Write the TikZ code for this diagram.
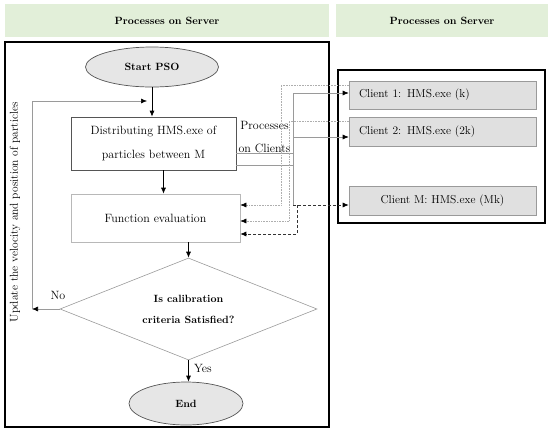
\documentclass[tikz,border=0pt]{standalone}
\usetikzlibrary{shapes.geometric,arrows.meta}
\definecolor{hdrgreen}{HTML}{E2EFD9}
\definecolor{termfill}{HTML}{E6E6E6}
\definecolor{clfill}{HTML}{E0E0E0}
\definecolor{lgray}{HTML}{9A9A9A}
\definecolor{dgray}{HTML}{555555}
\begin{document}
\begin{tikzpicture}[x=1pt,y=-1pt,
  hdr/.style={fill=hdrgreen,draw=none,inner sep=0pt,font=\bfseries\fontsize{10.5}{12}\selectfont},
  frame/.style={draw=black,line width=1.1pt,inner sep=0pt,fill=none},
  term/.style={ellipse,draw=dgray,fill=termfill,inner sep=0pt,line width=0.7pt,font=\bfseries\fontsize{10.5}{12}\selectfont},
  proc/.style={rectangle,inner sep=0pt,align=center,font=\fontsize{12}{24}\selectfont},
  client/.style={rectangle,draw=lgray,fill=clfill,inner sep=0pt,line width=0.6pt,minimum width=187pt,font=\fontsize{11.5}{13}\selectfont},
  tip/.style={-{Latex[length=6pt,width=5pt,color=black]}},
  flow/.style={black,line width=0.7pt,tip},
  sol/.style={lgray,line width=0.6pt},
  dot/.style={lgray!80,line width=0.6pt,densely dotted},
  dsh/.style={black!80,line width=0.7pt,densely dashed},
  lbl/.style={inner sep=0pt,font=\fontsize{12}{14}\selectfont}]
\useasboundingbox (0,0) rectangle (550,432);
% headers
\node[hdr,minimum width=324pt,minimum height=33pt] (h1) at (167,20.5) {Processes on Server};
\node[hdr,minimum width=212pt,minimum height=33pt] (h2) at (442,20.5) {Processes on Server};
% frames
\node[frame,minimum width=324pt,minimum height=385pt] (srv) at (167,234.5) {};
\node[frame,minimum width=207pt,minimum height=153pt] (cls) at (441.5,146.5) {};
% flow nodes
\node[term,minimum width=133pt,minimum height=40pt] (start) at (152,67) {Start PSO};
\node[proc,draw=dgray,line width=0.7pt,minimum width=165pt,minimum height=53pt] (dist) at (153.5,143.5) {Distributing HMS.exe of\\particles between M};
\node[proc,draw=lgray!70,line width=0.6pt,minimum width=169pt,minimum height=48pt] (fe) at (155.5,218) {Function evaluation};
\node[diamond,shape aspect=2.5,draw=lgray,line width=0.6pt,inner sep=0pt,minimum width=257pt,minimum height=102pt,align=center,font=\bfseries\fontsize{10.5}{21}\selectfont] (dia) at (188.5,309) {Is calibration\\criteria Satisfied?};
\node[term,minimum width=114pt,minimum height=43pt] (end) at (186,403.5) {End};
% clients
\node[client,minimum height=28pt,text width=167pt,align=left] (c1) at (442.5,95) {Client 1: HMS.exe (k)};
\node[client,minimum height=29pt,text width=167pt,align=left] (c2) at (442.5,131.5) {Client 2: HMS.exe (2k)};
\node[client,minimum height=29pt,text width=167pt,align=center] (cM) at (442.5,200.5) {Client M: HMS.exe (Mk)};
% labels
\node[lbl,align=center,font=\fontsize{12}{23}\selectfont] (pc) at (264.5,137) {Processes\\on Clients};
\node[lbl] (no) at (58,295) {No};
\node[lbl] (yes) at (203,368) {Yes};
\node[lbl,rotate=90,font=\fontsize{11.5}{13}\selectfont] (upd) at (15,212) {Update the velocity and position of particles};
% main flow
\draw[flow] (start.south) -- (start.south |- dist.north);
\draw[flow] ([xshift=10pt]dist.south) -- ([xshift=10pt]dist.south |- fe.north);
\draw[flow] (fe.south -| dia.north) -- (dia.north);
\draw[flow] (dia.south) -- (dia.south |- end.north);
% feedback
\coordinate (fb) at (32,309);
\coordinate (fbtop) at (32,101);
\coordinate (fbend) at (147,101);
\draw[sol,tip] (dia.west) -- (fb);
\draw[sol,tip] (fb) -- (fbtop) -- (fbend);
% to clients
\coordinate (j0) at (293,153);
\coordinate (j1) at (293,165);
\coordinate (t1) at (293,93);
\coordinate (t2) at (293,137);
\coordinate (tM) at (293,205);
\draw[sol] (dist.east |- j0) -- (j0);
\draw[sol] (dist.east |- j1) -- (j1);
\draw[sol] (t1) -- (tM);
\draw[sol,tip] (t1) -- (c1.west |- t1);
\draw[sol,tip] (t2) -- (c2.west |- t2);
\draw[dsh,tip] (tM) -- (cM.west |- tM);
% returns
\coordinate (r1) at (281,85);
\coordinate (q1) at (281,205);
\coordinate (r2) at (289,121);
\coordinate (q2) at (289,221);
\coordinate (r3) at (297,205);
\coordinate (q3) at (297,234);
\draw[dot,tip] (c1.west |- r1) -- (r1) -- (q1) -- (fe.east |- q1);
\draw[dot,tip] (c2.west |- r2) -- (r2) -- (q2) -- (fe.east |- q2);
\draw[dsh,tip] (r3) -- (q3) -- (fe.east |- q3);
\end{tikzpicture}
\end{document}
